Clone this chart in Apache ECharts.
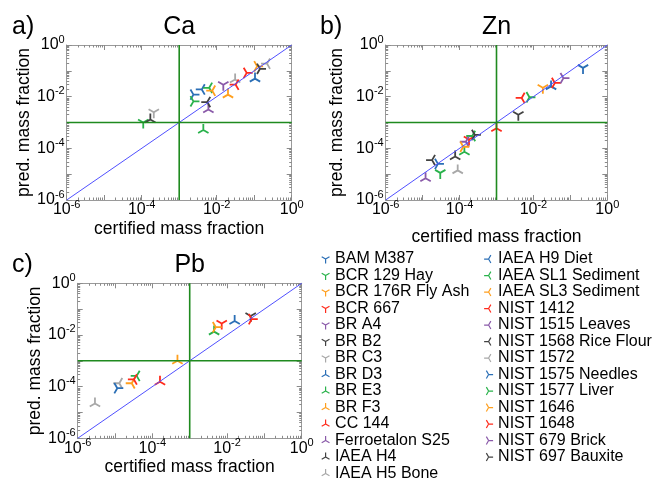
<!DOCTYPE html>
<html>
<head>
<meta charset="utf-8">
<title>Ca Zn Pb</title>
<script src="https://cdn.jsdelivr.net/npm/echarts@6/dist/echarts.min.js"></script>
<style>
  html, body { margin: 0; padding: 0; background: #fff; }
  #chart { width: 652px; height: 482px; }
</style>
</head>
<body>
<div id="chart"></div>
<script>
// reference samples, legend order
const samples = [
  'BAM M387', 'BCR 129 Hay', 'BCR 176R Fly Ash', 'BCR 667', 'BR A4', 'BR B2', 'BR C3',
  'BR D3', 'BR E3', 'BR F3', 'CC 144', 'Ferroetalon S25', 'IAEA H4', 'IAEA H5 Bone',
  'IAEA H9 Diet', 'IAEA SL1 Sediment', 'IAEA SL3 Sediment', 'NIST 1412', 'NIST 1515 Leaves', 'NIST 1568 Rice Flour', 'NIST 1572',
  'NIST 1575 Needles', 'NIST 1577 Liver', 'NIST 1646', 'NIST 1648', 'NIST 679 Brick', 'NIST 697 Bauxite'
]
const colors = ['#2b6fb6', '#29b24b', '#ff9f1e', '#ff2b1c', '#8a5aa9', '#424242', '#a8a8a8']
const shapes = ['down', 'up', 'left', 'right']

// certified / predicted mass fraction, one entry per sample (null = not measured)
const caCertified = [null, 1.1e-4, null, null, 1.5e-2, null, 2.1e-4,
  1.05e-1, 4.4e-3, 2.0e-2, null, 6.0e-3, 1.7e-4, 3.1e-2,
  4.0e-3, 6.3e-3, 7.6e-3, 3.2e-2, null, 5.6e-3, 2.2e-1,
  2.4e-3, 2.4e-3, 1.2e-1, 6.3e-2, null, 1.43e-1]
const caPredicted = [null, 1.0e-3, null, null, 2.9e-2, null, 2.5e-3,
  5.0e-2, 5.1e-4, 1.2e-2, null, 3.2e-3, 1.3e-3, 4.6e-2,
  1.9e-2, 2.2e-2, 1.7e-2, 2.9e-2, null, 6.2e-3, 1.9e-1,
  1.2e-2, 6.6e-3, 1.5e-1, 8.3e-2, null, 1.2e-1]

const znCertified = [2.2e-1, 3.0e-5, 1.8e-2, 1.8e-4, null, 3.9e-3, null,
  3.0e-2, 1.35e-4, null, 1.0e-3, 1.2e-5, 7.6e-5, 8.9e-5,
  null, 2.2e-4, null, 4.8e-3, 1.48e-4, 1.8e-5, null,
  2.6e-5, 7.8e-3, 1.26e-4, 3.8e-2, 6.5e-2, 2.6e-4]
const znPredicted = [1.3e-1, 1.12e-5, 2.2e-2, 2.2e-4, null, 2.0e-3, null,
  2.5e-2, 7.4e-5, null, 6.0e-4, 6.9e-6, 4.8e-5, 1.4e-5,
  null, 3.0e-4, null, 8.9e-3, 1.8e-4, 3.5e-5, null,
  2.5e-5, 9.5e-3, 1.15e-4, 3.4e-2, 5.2e-2, 3.3e-4]

const pbCertified = [null, null, null, 7.2e-3, null, 4.3e-2, null,
  1.6e-2, 4.5e-3, 4.7e-4, 1.6e-4, null, null, 2.9e-6,
  null, 3.8e-5, 2.8e-5, 3.2e-5, null, null, 1.3e-5,
  1.15e-5, null, 5.0e-3, 4.6e-2, null, null]
const pbPredicted = [null, null, null, 2.8e-2, null, 5.4e-2, null,
  3.5e-2, 1.35e-2, 1.0e-3, 1.55e-4, null, null, 2.24e-5,
  null, 2.6e-4, 1.35e-4, 1.9e-4, null, null, 1.35e-4,
  8.7e-5, null, 2.0e-2, 4.1e-2, null, null]

const majorTicks = [1e-6, 1e-5, 1e-4, 1e-3, 1e-2, 1e-1, 1]
const labelTicks = [1e-6, 1e-4, 1e-2, 1]
const threshold = 1e-3

// minor ticks 2..9 inside every decade
const minorTicks = []
for (let d = -6; d < 0; d++) {
  for (let k = 2; k < 10; k++) minorTicks.push(k * Math.pow(10, d))
}

const font = 'Liberation Sans, Arial, sans-serif'

// three-armed markers, padded to a square box around the centre
const pad = 'M-1,-1L-1,-1M1,1L1,1'
const triPaths = {
  down: 'path://M0,0L0,1M0,0L-0.866,-0.5M0,0L0.866,-0.5' + pad,
  up: 'path://M0,0L0,-1M0,0L-0.866,0.5M0,0L0.866,0.5' + pad,
  left: 'path://M0,0L-1,0M0,0L0.5,-0.866M0,0L0.5,0.866' + pad,
  right: 'path://M0,0L1,0M0,0L-0.5,-0.866M0,0L-0.5,0.866' + pad
}
function sampleColor(i) { return colors[i % 7] }
function sampleShape(i) { return triPaths[shapes[Math.floor(i / 7)]] }

const panels = [
  { name: 'Ca', tag: 'a)', cert: caCertified, pred: caPredicted,
    grid: { left: 66.7, top: 45, width: 225, height: 155 }, xGap: 20, yGap: 29 },
  { name: 'Zn', tag: 'b)', cert: znCertified, pred: znPredicted,
    grid: { left: 385.7, top: 45, width: 221.6, height: 155 }, xGap: 28, yGap: 40 },
  { name: 'Pb', tag: 'c)', cert: pbCertified, pred: pbPredicted,
    grid: { left: 77.7, top: 283.3, width: 224, height: 155 }, xGap: 20, yGap: 32 }
]

const richLabel = {
  b: { fontSize: 16, lineHeight: 22, fontFamily: font, color: '#000' },
  e: { fontSize: 11, lineHeight: 11, fontFamily: font, color: '#000', verticalAlign: 'top' }
}
function powerLabel(v) {
  return '{b|10}{e|' + Math.round(Math.log10(v)) + '}'
}

function baseAxis(g, position) {
  return {
    type: 'log', logBase: 10, min: 1e-6, max: 1, gridIndex: g, position: position,
    splitLine: { show: false },
    axisLine: { show: false },
    axisTick: { show: false },
    axisLabel: { show: false }
  }
}
function makeAxes(g, dim, p) {
  const main = dim === 'x' ? 'bottom' : 'left'
  const other = dim === 'x' ? 'top' : 'right'
  const major = { show: true, inside: true, length: 5, customValues: majorTicks, lineStyle: { color: '#8a8a8a' } }
  const minor = { show: true, inside: true, length: 2.5, customValues: minorTicks, lineStyle: { color: '#8a8a8a' } }
  const line = { show: true, lineStyle: { color: '#9a9a9a', width: 1 } }
  const first = Object.assign(baseAxis(g, main), {
    axisLine: line,
    axisTick: major,
    axisLabel: { show: true, customValues: labelTicks, formatter: powerLabel, rich: richLabel, margin: dim === 'x' ? -1 : 2 },
    name: dim === 'x' ? 'certified mass fraction' : 'pred. mass fraction',
    nameLocation: 'middle',
    nameGap: dim === 'x' ? p.xGap : p.yGap,
    nameTextStyle: { fontSize: 17.5, fontFamily: font, color: '#000' }
  })
  return [
    first,
    Object.assign(baseAxis(g, main), { axisTick: minor }),
    Object.assign(baseAxis(g, other), { axisLine: line, axisTick: major }),
    Object.assign(baseAxis(g, other), { axisTick: minor })
  ]
}

const grids = []
const xAxes = []
const yAxes = []
const series = []
const graphics = []

panels.forEach(function (p, g) {
  grids.push(p.grid)
  makeAxes(g, 'x', p).forEach(a => xAxes.push(a))
  makeAxes(g, 'y', p).forEach(a => yAxes.push(a))
  const ax = { xAxisIndex: g * 4, yAxisIndex: g * 4 }

  series.push(Object.assign({
    type: 'line', data: [[1e-6, 1e-6], [1, 1]], symbol: 'none', silent: true,
    lineStyle: { color: '#5050ff', width: 1 }
  }, ax))
  series.push(Object.assign({
    type: 'line', data: [[threshold, 1e-6], [threshold, 1]], symbol: 'none', silent: true,
    lineStyle: { color: '#1f8a1f', width: 1.6 }
  }, ax))
  series.push(Object.assign({
    type: 'line', data: [[1e-6, threshold], [1, threshold]], symbol: 'none', silent: true,
    lineStyle: { color: '#1f8a1f', width: 1.6 }
  }, ax))

  samples.forEach(function (name, i) {
    if (p.cert[i] == null) return
    const c = sampleColor(i)
    series.push(Object.assign({
      type: 'scatter',
      name: name,
      data: [[p.cert[i], p.pred[i]]],
      symbol: sampleShape(i),
      symbolSize: 12,
      itemStyle: { color: c, borderColor: c, borderWidth: 1.8, opacity: 1 }
    }, ax))
  })

  const cx = p.grid.left + p.grid.width / 2
  const ty = p.grid.top - 18
  graphics.push({ type: 'text', x: cx, y: ty, style: { text: p.name, align: 'center', verticalAlign: 'middle', font: '25px ' + font, fill: '#000' } })
  graphics.push({ type: 'text', x: g === 1 ? 320 : 12, y: ty, style: { text: p.tag, align: 'left', verticalAlign: 'middle', font: '25px ' + font, fill: '#000' } })
})

function legendItems(from, to) {
  return samples.slice(from, to).map(function (name, k) {
    const i = from + k
    const c = sampleColor(i)
    return { name: name, icon: sampleShape(i), itemStyle: { color: c, borderColor: c, borderWidth: 1.2 } }
  })
}
const legendCommon = {
  orient: 'vertical', selectedMode: false, itemWidth: 9, itemHeight: 9, itemGap: 0, padding: 0,
  textStyle: { fontSize: 16, lineHeight: 16.5, fontFamily: font, color: '#000' }
}

const option = {
  animation: false,
  backgroundColor: '#fff',
  grid: grids,
  xAxis: xAxes,
  yAxis: yAxes,
  legend: [
    Object.assign({ left: 320.5, top: 250.8, data: legendItems(0, 14) }, legendCommon),
    Object.assign({ left: 483.5, top: 250.8, data: legendItems(14, 27) }, legendCommon)
  ],
  graphic: graphics,
  series: series
}

echarts.init(document.getElementById('chart')).setOption(option)
</script>
</body>
</html>
